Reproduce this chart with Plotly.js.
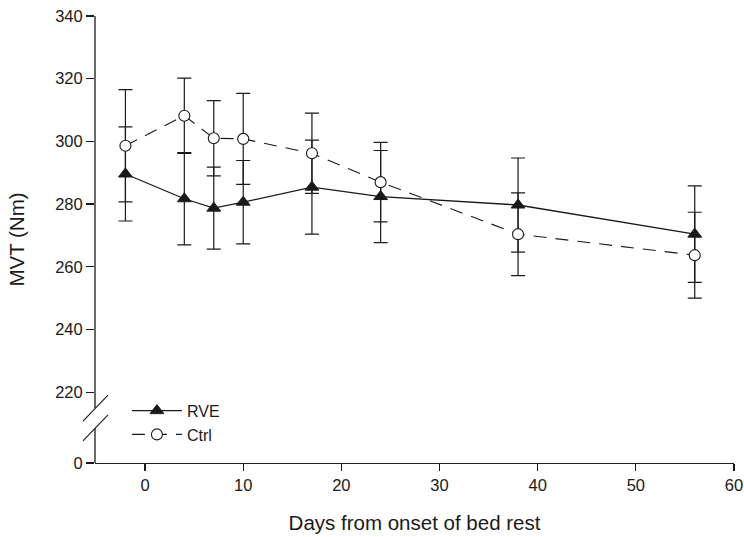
<!DOCTYPE html>
<html>
<head>
<meta charset="utf-8">
<script src="https://cdn.plot.ly/plotly-3.0.1.min.js"></script>
<style>html,body{margin:0;padding:0;background:#fff;}#chart{width:744px;height:537px;}</style>
</head>
<body>
<div id="chart"></div>
<script>
var days = [-2, 4, 7, 10, 17, 24, 38, 56];
var rveMean = [289.6, 281.7, 278.7, 280.6, 285.4, 282.4, 279.7, 270.4];
var rveErr  = [15.0, 14.7, 13.1, 13.3, 15.0, 14.7, 15.0, 15.4];
var ctrlMean = [298.6, 308.2, 301.0, 300.8, 296.2, 287.0, 270.4, 263.7];
var ctrlErr  = [17.9, 12.0, 12.0, 14.5, 12.8, 12.7, 13.2, 13.7];
var yTickVals = [197.4, 220, 240, 260, 280, 300, 320, 340];
var yTickText = ["0", "220", "240", "260", "280", "300", "320", "340"];
var xTickVals = [0, 10, 20, 30, 40, 50, 60];

var font = "Liberation Sans, Arial, sans-serif";
var breakTop = 214.9, breakBottom = 208.6, yBottom = 197.4;

var traces = [
  {
    x: days, y: rveMean, name: "RVE", mode: "lines+markers", type: "scatter",
    line: {color: "#1a1a1a", width: 1.3},
    marker: {symbol: "triangle-up", size: 12, color: "#1a1a1a", line: {color: "#1a1a1a", width: 1}},
    error_y: {type: "data", array: rveErr, visible: true, color: "#1a1a1a", thickness: 1.2, width: 7}
  },
  {
    x: days, y: ctrlMean, name: "Ctrl", mode: "lines+markers", type: "scatter",
    line: {color: "#1a1a1a", width: 1.1, dash: "13px,9px"},
    marker: {symbol: "circle", size: 11, color: "#ffffff", line: {color: "#1a1a1a", width: 1.1}},
    error_y: {type: "data", array: ctrlErr, visible: true, color: "#1a1a1a", thickness: 1.2, width: 7}
  }
];

var shapes = [
  {type: "line", xref: "paper", yref: "y", x0: 0, x1: 0, y0: breakTop, y1: 340, line: {color: "#1a1a1a", width: 1.3}},
  {type: "line", xref: "paper", yref: "y", x0: 0, x1: 0, y0: yBottom, y1: breakBottom, line: {color: "#1a1a1a", width: 1.3}},
  {type: "line", xref: "paper", yref: "y", xsizemode: "pixel", ysizemode: "pixel", xanchor: 0, yanchor: breakTop,
   x0: -12, x1: 13, y0: -13, y1: 13, line: {color: "#1a1a1a", width: 1.1}},
  {type: "line", xref: "paper", yref: "y", xsizemode: "pixel", ysizemode: "pixel", xanchor: 0, yanchor: breakBottom,
   x0: -12, x1: 13, y0: -13, y1: 13, line: {color: "#1a1a1a", width: 1.1}}
];

var layout = {
  width: 744, height: 537,
  margin: {l: 95, r: 10, t: 16, b: 74},
  paper_bgcolor: "#ffffff", plot_bgcolor: "#ffffff",
  font: {family: font, size: 16, color: "#1a1a1a"},
  showlegend: true,
  legend: {x: 0.05, y: 0.155, xanchor: "left", yanchor: "top", bgcolor: "rgba(0,0,0,0)",
           font: {family: font, size: 16, color: "#1a1a1a"}, tracegroupgap: 0, itemwidth: 50},
  xaxis: {
    range: [-5.1, 60], tickvals: xTickVals, ticks: "outside", ticklen: 7, tickwidth: 1.2, tickcolor: "#1a1a1a",
    showline: true, linecolor: "#1a1a1a", linewidth: 1.3, showgrid: false, zeroline: false,
    tickfont: {family: font, size: 16.5, color: "#1a1a1a"},
    title: {text: "Days from onset of bed rest", font: {family: font, size: 20.5, color: "#1a1a1a"}, standoff: 22}
  },
  yaxis: {
    range: [yBottom, 340], tickvals: yTickVals, ticktext: yTickText, ticks: "outside", ticklen: 8, tickwidth: 1.2, tickcolor: "#1a1a1a",
    showline: false, showgrid: false, zeroline: false,
    tickfont: {family: font, size: 16.5, color: "#1a1a1a"},
    title: {text: "MVT (Nm)", font: {family: font, size: 20.5, color: "#1a1a1a"}, standoff: 24}
  },
  shapes: shapes
};

Plotly.newPlot("chart", traces, layout, {staticPlot: true, displayModeBar: false});
</script>
</body>
</html>
